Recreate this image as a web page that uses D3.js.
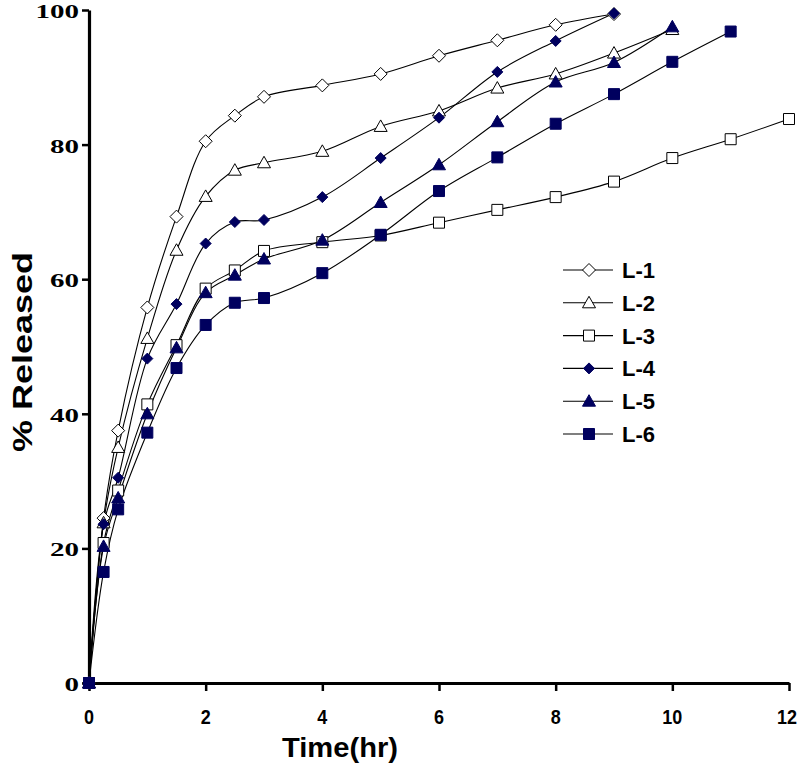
<!DOCTYPE html>
<html><head><meta charset="utf-8">
<script src="https://cdn.jsdelivr.net/npm/d3@7"></script>
<style>html,body{margin:0;padding:0;background:#fff;}svg{display:block;}</style>
</head><body>
<svg id="chart" width="799" height="773"></svg>
<script>
const times = [0, 0.25, 0.5, 1, 1.5, 2, 2.5, 3, 4, 5, 6, 7, 8, 9, 10, 11, 12];
const seriesNames = ["L-1", "L-2", "L-3", "L-4", "L-5", "L-6"];
const L1 = [0, 24.5, 37.5, 55.8, 69.3, 80.5, 84.3, 87.1, 88.8, 90.5, 93.2, 95.5, 97.8, 99.4];
const L2 = [0, 23.8, 35.0, 51.2, 64.3, 72.3, 76.2, 77.3, 79.0, 82.7, 85.0, 88.4, 90.5, 93.6, 97.1];
const L3 = [0, 20.8, 28.6, 41.4, 50.2, 58.6, 61.3, 64.2, 65.5, 66.5, 68.4, 70.3, 72.2, 74.5, 78.0, 80.8, 83.8];
const L4 = [0, 23.6, 30.5, 48.2, 56.3, 65.3, 68.5, 68.8, 72.2, 78.0, 84.0, 90.8, 95.4, 99.5];
const L5 = [0, 20.3, 27.5, 40.0, 49.8, 58.0, 60.6, 63.0, 65.8, 71.4, 77.0, 83.4, 89.3, 92.2, 97.5];
const L6 = [0, 16.5, 25.8, 37.2, 46.8, 53.2, 56.5, 57.2, 60.9, 66.6, 73.1, 78.1, 83.1, 87.5, 92.3, 96.8];
const xTicks = [0, 2, 4, 6, 8, 10, 12];
const yTicks = [0, 20, 40, 60, 80, 100];
const markerShapes = ["diamond", "triangle", "square", "diamond", "triangle", "square"];
const markerFilled = [false, false, false, true, true, true];

const allValues = [L1, L2, L3, L4, L5, L6];
const navy = "#00005e";
const svg = d3.select("#chart");
const x = d3.scaleLinear().domain([0, 12]).range([89, 789]);
const y = d3.scaleLinear().domain([0, 100]).range([683, 10]);

// axes
const xAxis = svg.append("g").attr("transform", "translate(0,683)")
  .call(d3.axisBottom(x).tickValues(xTicks).tickSize(8).tickSizeOuter(0).tickFormat(""));
const yAxis = svg.append("g").attr("transform", "translate(89,0)")
  .call(d3.axisLeft(y).tickValues(yTicks).tickSize(7).tickSizeOuter(0).tickFormat(""));
[xAxis, yAxis].forEach(g => {
  g.select(".domain").attr("stroke", "#000").attr("stroke-width", 3.2);
  g.selectAll(".tick line").attr("stroke", "#000").attr("stroke-width", 2.5);
});

// tick labels
svg.append("g").selectAll("text").data(xTicks).join("text")
  .attr("x", d => d === 12 ? 797 : x(d)).attr("y", 724)
  .attr("text-anchor", d => d === 12 ? "end" : "middle")
  .attr("font-family", "Liberation Sans, Arial, sans-serif").attr("font-weight", "bold")
  .attr("font-size", 20)
  .attr("textLength", d => String(d).length * 10).attr("lengthAdjust", "spacingAndGlyphs")
  .text(d => d);
svg.append("g").selectAll("text").data(yTicks).join("text")
  .attr("x", 79).attr("y", d => y(d) + 8)
  .attr("text-anchor", "end")
  .attr("font-family", "Liberation Serif, Times New Roman, serif").attr("font-weight", "bold")
  .attr("font-size", 19.5)
  .attr("textLength", d => String(d).length * 14.5).attr("lengthAdjust", "spacingAndGlyphs")
  .text(d => d);

// axis titles
svg.append("text").attr("x", 340).attr("y", 757).attr("text-anchor", "middle")
  .attr("font-family", "Liberation Sans, Arial, sans-serif").attr("font-weight", "bold")
  .attr("font-size", 28).attr("textLength", 116).attr("lengthAdjust", "spacingAndGlyphs")
  .text("Time(hr)");
svg.append("text").attr("transform", "translate(32,352) rotate(-90)").attr("text-anchor", "middle")
  .attr("font-family", "Liberation Sans, Arial, sans-serif").attr("font-weight", "bold")
  .attr("font-size", 27).attr("textLength", 200).attr("lengthAdjust", "spacingAndGlyphs")
  .text("% Released");

function markerPath(shape, filled) {
  if (shape === "diamond") return filled ? "M0,-5.5L5.5,0L0,5.5L-5.5,0Z" : "M0,-6.5L6.5,0L0,6.5L-6.5,0Z";
  if (shape === "triangle") return "M0,-6.5L6.5,5L-6.5,5Z";
  return "M-5.5,-5.5H5.5V5.5H-5.5Z";
}

const line = d3.line().x(d => x(d[0])).y(d => y(d[1])).curve(d3.curveCatmullRom.alpha(0.5));

allValues.forEach((vals, i) => {
  const pts = vals.map((v, j) => [times[j], v]);
  svg.append("path").datum(pts).attr("d", line)
    .attr("fill", "none").attr("stroke", "#000").attr("stroke-width", 1.1);
});
allValues.forEach((vals, i) => {
  const pts = vals.map((v, j) => [times[j], v]);
  svg.append("g").selectAll("path").data(pts).join("path")
    .attr("transform", d => `translate(${x(d[0])},${y(d[1])})`)
    .attr("d", markerPath(markerShapes[i], markerFilled[i]))
    .attr("fill", markerFilled[i] ? navy : "#fff")
    .attr("stroke", markerFilled[i] ? navy : "#000")
    .attr("stroke-width", 1);
});

// legend
const leg = svg.append("g");
seriesNames.forEach((name, i) => {
  const ly = 270 + i * 32.8;
  leg.append("line").attr("x1", 563).attr("x2", 613).attr("y1", ly).attr("y2", ly)
    .attr("stroke", "#000").attr("stroke-width", 1.1);
  leg.append("path").attr("transform", `translate(589,${ly})`).attr("d", markerPath(markerShapes[i], markerFilled[i]))
    .attr("fill", markerFilled[i] ? navy : "#fff")
    .attr("stroke", markerFilled[i] ? navy : "#000").attr("stroke-width", 1);
  leg.append("text").attr("x", 622).attr("y", ly + 8)
    .attr("font-family", "Liberation Sans, Arial, sans-serif").attr("font-weight", "bold")
    .attr("font-size", 22).attr("textLength", 33).attr("lengthAdjust", "spacingAndGlyphs")
    .text(name);
});
</script>
</body></html>
